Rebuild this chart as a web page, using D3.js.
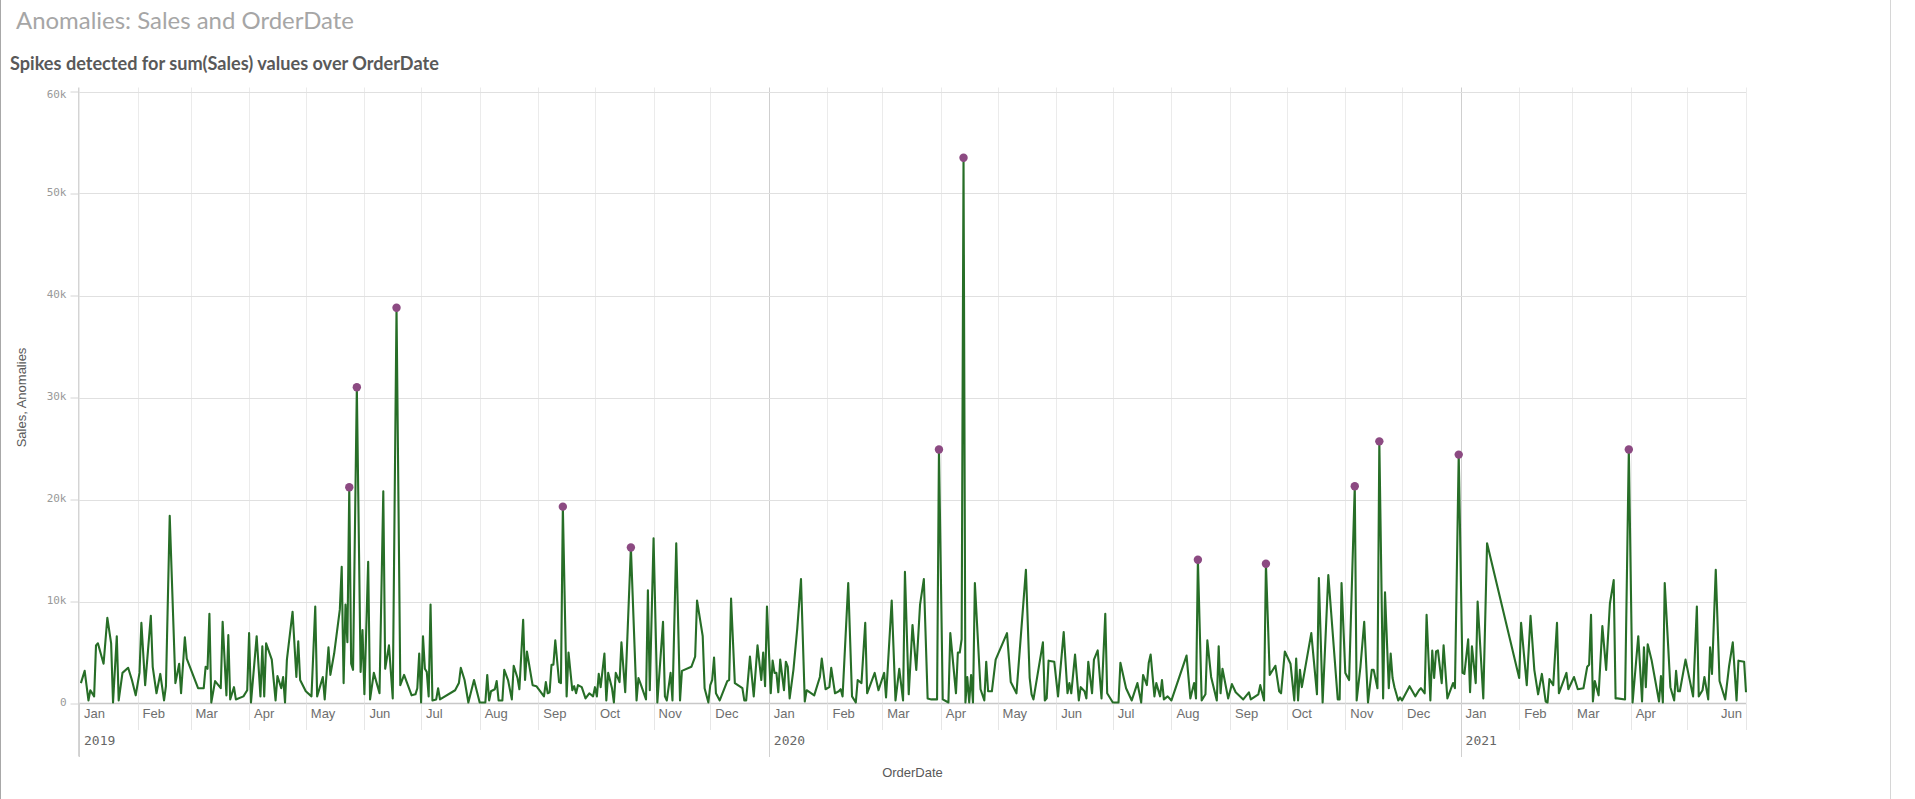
<!DOCTYPE html>
<html><head><meta charset="utf-8">
<script src="https://cdn.jsdelivr.net/npm/d3@7"></script>
<style>
body{margin:0;background:#fff;}
svg{display:block;}
</style>
</head><body>
<svg id="chart" width="1915" height="799"></svg>
<script>
// ---------------- DATA ----------------
const titleText = "Anomalies: Sales and OrderDate";
const subtitleText = "Spikes detected for sum(Sales) values over OrderDate";
const yAxisTitle = "Sales, Anomalies";
const xAxisTitle = "OrderDate";
const startDate = "2019-01-01";
const endDate = "2021-06-01";
// order day = days since 2019-01-01
const orderDay = [
 1,3,5,6,8,9,10,13,15,17,
 18,20,21,23,26,28,30,32,33,35,
 38,39,41,43,45,46,48,51,53,54,
 56,57,63,66,67,68,69,70,72,75,
 76,78,79,80,82,83,87,89,90,91,
 94,96,97,98,99,102,104,105,107,108,
 109,110,113,115,116,117,120,123,125,126,
 129,130,132,133,135,138,139,140,141,142,
 143,144,145,147,149,150,151,153,154,156,
 159,161,162,164,166,168,170,172,176,178,
 179,180,181,182,183,184,185,186,187,189,
 190,191,199,201,202,204,206,209,212,215,
 216,217,218,220,221,222,224,225,227,229,
 230,232,233,235,236,237,240,242,246,247,
 248,249,250,251,252,254,255,256,258,259,
 261,262,263,264,266,268,270,272,273,274,
 275,276,278,279,280,282,283,284,286,287,
 289,292,295,296,297,300,301,302,304,306,
 309,310,311,313,314,316,318,319,324,326,
 327,330,331,333,334,335,336,337,339,343,
 344,345,347,351,352,353,355,357,359,361,
 362,363,364,366,367,368,369,370,371,373,
 374,375,376,378,380,382,384,385,389,392,
 393,395,397,398,400,402,403,404,407,409,
 411,412,414,416,417,421,423,426,427,430,
 432,434,436,437,439,441,443,445,447,449,
 451,454,455,457,460,461,464,465,466,467,
 468,469,470,471,472,473,474,477,479,480,
 481,483,485,491,493,496,501,503,504,505,
 510,511,512,513,516,518,521,523,524,525,
 527,529,530,532,533,534,536,537,539,541,
 543,544,547,550,551,554,557,560,562,563,
 565,566,567,569,570,572,573,574,576,578,
 586,588,590,591,592,594,596,597,599,602,
 603,604,605,608,610,612,616,619,620,624,
 625,627,628,630,633,635,636,638,641,643,
 644,645,646,647,652,655,656,658,661,666,
 667,668,670,672,675,676,678,680,682,684,
 685,687,688,690,691,693,694,695,696,698,
 699,700,704,707,709,710,712,713,715,716,
 717,718,719,721,722,724,727,728,730,732,
 733,735,736,737,739,740,743,745,762,763,
 766,768,770,772,774,776,777,778,780,782,
 783,787,788,791,793,796,798,799,800,801,
 802,804,806,808,810,812,813,814,818,820,
 822,825,827,828,829,830,832,836,837,838,
 839,842,844,845,846,847,850,854,856,857,
 859,860,862,863,864,866,868,871,873,875,
 877,878,881,882
];
// sum(Sales) in thousands
const salesK = [
 2.0,3.2,0.3,1.3,0.7,5.7,5.9,3.9,8.4,5.9,
 0.1,6.6,0.3,3.0,3.5,2.3,0.8,3.0,7.9,1.8,
 8.6,3.6,1.0,2.9,0.3,1.7,18.4,2.0,3.9,1.0,
 6.5,4.4,1.5,1.5,3.6,3.4,8.8,0.1,2.2,1.5,
 8.0,0.8,6.7,0.4,1.6,0.4,0.7,1.3,6.9,0.1,
 6.6,0.7,5.6,0.7,5.9,4.3,0.3,2.7,1.5,2.6,
 0.1,4.3,9.0,2.6,6.1,2.3,1.2,0.7,9.5,0.7,
 2.6,0.4,5.5,2.8,4.9,9.2,13.4,2.0,9.7,6.0,
 21.2,3.9,3.3,31.0,3.1,7.2,0.9,13.9,0.4,3.0,
 1.0,20.8,3.4,5.7,0.5,38.8,1.8,2.8,0.8,0.9,
 1.5,4.9,0.1,6.6,3.4,3.1,0.7,9.7,0.3,0.4,
 1.5,0.4,1.3,2.0,3.5,2.3,0.1,2.3,0.1,0.1,
 2.8,0.3,1.2,1.4,2.2,0.3,0.3,3.3,2.3,0.4,
 3.7,2.5,1.4,8.2,2.3,5.1,1.8,1.7,0.7,2.1,
 1.0,1.1,3.8,3.8,6.2,2.1,2.0,19.3,0.7,5.0,
 1.3,1.7,1.0,1.8,1.6,0.5,1.0,0.7,1.6,0.7,
 2.9,1.6,4.9,0.3,3.0,1.5,0.1,3.0,2.1,6.0,
 1.1,15.3,0.3,2.5,2.0,0.4,11.1,1.3,16.2,0.1,
 8.0,0.7,0.3,3.0,0.3,15.7,0.3,3.2,3.6,4.6,
 10.1,6.6,1.5,0.1,1.8,2.3,4.5,1.0,0.3,2.2,
 2.3,10.3,2.0,1.5,0.3,0.3,4.6,0.7,5.7,2.3,
 5.0,1.7,9.5,1.0,4.2,3.0,3.0,1.1,4.3,1.3,
 4.1,3.6,0.5,3.3,7.3,12.2,0.2,1.3,0.8,2.6,
 4.4,1.4,1.6,3.5,1.0,1.2,1.4,0.7,11.8,0.7,
 0.1,2.3,2.0,7.9,1.0,3.0,1.3,3.0,0.6,10.1,
 0.3,3.4,0.3,12.9,0.9,7.7,3.3,9.7,12.2,0.5,
 0.4,0.4,24.9,0.4,0.1,6.9,1.0,5.0,5.0,6.3,
 53.5,0.1,2.6,0.1,2.8,0.1,11.8,1.4,0.3,4.1,
 1.2,1.2,4.3,6.9,2.1,1.0,13.1,2.5,0.9,0.4,
 6.0,0.3,0.5,4.2,4.1,0.7,7.0,1.0,2.0,1.0,
 4.8,0.3,1.6,1.2,0.5,4.1,1.0,4.3,5.2,0.5,
 8.8,1.0,0.1,0.1,4.0,1.5,0.3,2.0,0.1,2.8,
 1.8,4.0,4.8,0.7,2.0,0.7,2.3,0.4,0.7,0.3,
 4.7,0.5,2.0,0.5,14.1,0.3,0.9,6.2,2.6,0.3,
 5.6,1.0,3.4,0.5,1.9,1.1,0.4,1.1,0.4,0.9,
 1.8,0.3,13.7,2.8,3.7,1.2,1.0,5.1,3.9,0.3,
 4.4,0.3,3.3,1.6,6.9,0.9,12.3,0.1,12.6,0.4,
 0.4,11.8,3.0,2.3,21.3,0.3,3.6,8.0,0.1,3.3,
 3.3,1.5,25.7,0.5,10.9,1.5,4.9,2.5,1.6,0.3,
 0.6,0.3,1.7,0.7,1.3,1.5,1.0,8.7,0.3,5.2,
 2.5,5.1,5.2,2.0,5.7,0.5,2.0,1.5,24.4,3.0,
 2.9,6.3,1.1,5.6,2.0,10.0,0.5,15.7,2.5,7.9,
 1.8,8.6,3.3,0.9,2.9,0.2,0.1,2.4,1.8,7.9,
 1.0,3.0,1.4,2.6,1.4,1.5,3.6,3.8,8.7,0.2,
 2.2,0.8,7.6,3.3,9.8,12.1,0.5,0.5,0.4,24.9,
 0.1,6.6,0.2,5.5,1.6,5.8,4.3,0.2,2.7,0.1,
 11.8,1.6,0.3,3.2,1.2,1.2,4.3,0.7,9.5,0.7,
 1.3,2.6,0.4,5.5,2.9,13.1,2.2,0.4,3.6,6.0,
 0.3,4.2,4.1,1.1
];
// days flagged as spikes (anomalies)
const anomalyDay = [143,147,168,256,292,455,468,592,628,675,688,730,820];
const yTickValues = [0,10000,20000,30000,40000,50000,60000];
const yTickLabels = ["0","10k","20k","30k","40k","50k","60k"];
const monthNames = ["Jan","Feb","Mar","Apr","May","Jun","Jul","Aug","Sep","Oct","Nov","Dec"];
const yearLabels = ["2019","2020","2021"];

// ---------------- CHART ----------------
const svg = d3.select("#chart");
const parse = d3.utcParse("%Y-%m-%d");
const t0 = parse(startDate), t1 = parse(endDate);

const data = orderDay.map((d,i)=>({date:d3.utcDay.offset(t0,d), value:salesK[i]*1000, day:d}));
const anomalies = data.filter(d=>anomalyDay.includes(d.day));

const L=79, R=1746, T=91.5, B=703.5;
const x = d3.scaleUtc().domain([t0,t1]).range([L,R]);
const y = d3.scaleLinear().domain([0,60000]).range([B,T]);

function fitWidth(sel, target){
  const fs = +sel.attr("font-size");
  const w = sel.node().getComputedTextLength();
  if (w>0) sel.attr("font-size", (fs*target/w).toFixed(2));
}

// card border
svg.append("line").attr("x1",0.5).attr("x2",0.5).attr("y1",0).attr("y2",799).attr("stroke","#a8a8a8");
svg.append("line").attr("x1",1890.5).attr("x2",1890.5).attr("y1",0).attr("y2",799).attr("stroke","#d6d6d6");

// titles
const tt = svg.append("text").attr("x",16).attr("y",29).text(titleText)
  .attr("font-family","Lato, 'Open Sans', sans-serif").attr("font-size",20).attr("fill","#a6a6a6");
fitWidth(tt, 338);
const st = svg.append("text").attr("x",10).attr("y",70).text(subtitleText)
  .attr("font-family","Lato, 'Open Sans', sans-serif").attr("font-weight","bold").attr("font-size",15.5).attr("fill","#595959");
fitWidth(st, 429);

// gridlines
const months = d3.utcMonth.range(t0, d3.utcDay.offset(t1,1));
const grid = svg.append("g");
grid.selectAll("line.v").data(months).join("line")
  .attr("x1",d=>Math.round(x(d))+0.5).attr("x2",d=>Math.round(x(d))+0.5)
  .attr("y1",T-4).attr("y2",B)
  .attr("stroke",d=>d.getUTCMonth()===0 && +d!==+t0 ? "#cfcfcf" : "#ebebeb").attr("stroke-width",1);
grid.selectAll("line.h").data(yTickValues.slice(1)).join("line")
  .attr("x1",L).attr("x2",R).attr("y1",d=>Math.round(y(d))+0.5).attr("y2",d=>Math.round(y(d))+0.5)
  .attr("stroke","#e0e0e0");

// y axis
const yAxis = d3.axisLeft(y).tickValues(yTickValues).tickFormat((d,i)=>yTickLabels[i]).tickSize(8).tickPadding(4);
const gy = svg.append("g").attr("transform",`translate(${L-0.5},0)`).call(yAxis);
gy.select(".domain").attr("stroke","#d4d4d4").attr("d",`M0,${T-4}V${B+53}`);
gy.selectAll(".tick line").attr("stroke","#d4d4d4");
gy.selectAll(".tick text").attr("font-family","'DejaVu Sans Mono', monospace").attr("font-size",11).attr("fill","#999").attr("dy","0.15em");
gy.selectAll(".tick").filter(d=>d===60000).select("text").attr("dy","0.5em");

svg.append("text").attr("transform",`translate(21,${(T+B)/2}) rotate(-90)`).attr("text-anchor","middle")
  .attr("dy","0.35em").text(yAxisTitle)
  .attr("font-family","'Liberation Sans', Arial, sans-serif").attr("font-size",13).attr("fill","#595959");

// x axis
svg.append("line").attr("x1",L).attr("x2",R).attr("y1",B).attr("y2",B).attr("stroke","#c8c8c8").attr("stroke-width",1.5);
const xg = svg.append("g");
xg.selectAll("line.m").data(months).join("line")
  .attr("x1",d=>Math.round(x(d))+0.5).attr("x2",d=>Math.round(x(d))+0.5)
  .attr("y1",B).attr("y2",730).attr("stroke","#e6e6e6");
const years = d3.utcYear.range(t0, t1);
xg.selectAll("line.y").data(years).join("line")
  .attr("x1",d=>Math.round(x(d))+0.5).attr("x2",d=>Math.round(x(d))+0.5)
  .attr("y1",B).attr("y2",757).attr("stroke","#d0d0d0");
const monthLabelData = months.filter(d=>+d<+t1 && !(d.getUTCFullYear()===2021 && d.getUTCMonth()===4));
xg.selectAll("text.m").data(monthLabelData).join("text")
  .attr("x",d=>x(d)+5).attr("y",718).text(d=>monthNames[d.getUTCMonth()])
  .attr("font-family","'Liberation Sans', Arial, sans-serif").attr("font-size",13).attr("fill","#6e6e6e");
xg.append("text").attr("x",R-4).attr("y",718).attr("text-anchor","end").text(monthNames[t1.getUTCMonth()])
  .attr("font-family","'Liberation Sans', Arial, sans-serif").attr("font-size",13).attr("fill","#6e6e6e");
xg.selectAll("text.y").data(years).join("text")
  .attr("x",d=>x(d)+5).attr("y",745).text((d,i)=>yearLabels[i])
  .attr("font-family","'DejaVu Sans Mono', monospace").attr("font-size",13).attr("fill","#666");
svg.append("text").attr("x",(L+R)/2).attr("y",776.5).attr("text-anchor","middle").text(xAxisTitle)
  .attr("font-family","'Liberation Sans', Arial, sans-serif").attr("font-size",13).attr("fill","#595959");

// line
const line = d3.line().x(d=>x(d.date)).y(d=>y(d.value));
svg.append("path").datum(data).attr("d",line).attr("fill","none")
  .attr("stroke","#276e27").attr("stroke-width",2.1).attr("stroke-linejoin","round");

// anomaly points
svg.append("g").selectAll("circle").data(anomalies).join("circle")
  .attr("cx",d=>x(d.date)).attr("cy",d=>y(d.value)).attr("r",4.2).attr("fill","#8c4a82");
</script>
</body></html>
